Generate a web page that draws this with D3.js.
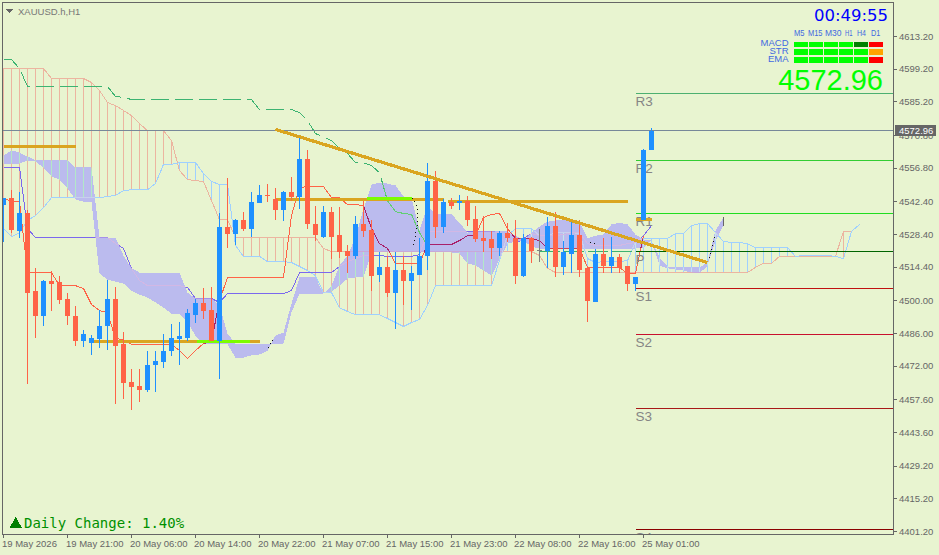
<!DOCTYPE html>
<html lang="en">
<head>
<meta charset="UTF-8">
<title>XAUUSD.h,H1</title>
<script src="https://d3js.org/d3.v7.min.js"></script>
<style>
    html, body { margin: 0; padding: 0; background: #e8f4d0; overflow: hidden; }
    svg { display: block; }
    line, rect, path { shape-rendering: crispEdges; }
    text { font-family: "Liberation Sans", Arial, sans-serif; }
    .tick-label { font-size: 9.5px; fill: #666; }
    .pivot-label { font-size: 13.5px; fill: #858585; }
</style>
</head>
<body>
<svg width="939" height="555"></svg>
<script>
    // candles, one entry per H1 bar
    const opens = [4541.2,4544.2,4530.1,4537.4,4504.0,4493.7,4508.3,4507.9,4500.9,4493.7,4482.6,4482.1,4483.8,4489.0,4500.9,4481.3,4465.4,4463.7,4461.6,4472.3,4474.0,4478.3,4483.8,4484.2,4494.1,4499.2,4496.2,4482.6,4531.4,4528.8,4534.4,4530.9,4542.1,4545.5,4543.8,4539.1,4546.8,4544.6,4560.9,4533.1,4527.5,4538.2,4528.0,4521.5,4519.4,4532.7,4530.5,4511.2,4514.3,4503.5,4513.0,4508.3,4511.2,4519.0,4551.5,4531.4,4542.5,4542.1,4542.9,4535.2,4526.7,4526.3,4522.8,4529.2,4527.1,4510.8,4526.7,4521.9,4521.5,4532.2,4514.3,4520.2,4528.4,4513.9,4499.7,4520.2,4514.7,4518.9,4514.7,4507.4,4534.4,4564.4];
    const highs = [4544.2,4547.6,4546.8,4538.7,4513.9,4509.1,4512.6,4510.8,4503.5,4497.6,4487.6,4485.5,4496.2,4508.7,4506.1,4486.8,4471.0,4470.6,4478.7,4478.3,4485.9,4490.2,4491.1,4496.7,4500.9,4505.3,4506.1,4537.4,4552.4,4535.2,4538.2,4546.4,4549.8,4550.2,4548.5,4547.2,4553.2,4570.8,4564.8,4540.4,4540.4,4540.0,4540.0,4524.1,4536.5,4542.9,4534.8,4521.1,4519.4,4520.7,4519.4,4515.1,4526.7,4559.2,4555.8,4543.8,4544.2,4545.5,4545.1,4540.8,4536.5,4529.7,4530.1,4533.5,4534.4,4528.8,4527.5,4530.9,4535.7,4538.2,4525.8,4534.4,4534.4,4513.9,4522.4,4526.7,4527.5,4520.2,4515.1,4510.4,4565.2,4573.8];
    const lows = [4525.0,4529.2,4527.1,4464.5,4484.2,4489.4,4495.8,4498.8,4489.8,4480.8,4480.4,4477.0,4479.6,4479.1,4456.0,4458.1,4453.4,4456.5,4461.1,4461.1,4471.4,4476.5,4472.3,4482.6,4490.7,4492.4,4482.6,4466.7,4522.8,4523.7,4529.7,4527.5,4541.7,4542.5,4534.4,4534.0,4542.9,4539.5,4530.9,4525.8,4527.1,4518.1,4518.5,4511.7,4518.1,4527.5,4504.4,4507.9,4501.8,4488.1,4498.0,4496.2,4511.2,4513.4,4527.1,4529.2,4539.5,4539.1,4532.2,4525.0,4520.7,4518.1,4519.0,4525.0,4507.0,4510.0,4516.0,4516.8,4513.9,4510.0,4511.2,4512.1,4510.0,4491.1,4499.7,4512.1,4512.1,4512.1,4504.0,4504.4,4534.4,4564.4];
    const closes = [4544.2,4530.5,4537.4,4503.5,4493.7,4508.3,4507.4,4500.5,4493.3,4482.6,4485.9,4484.2,4489.4,4500.9,4480.8,4465.0,4463.3,4461.6,4472.7,4474.4,4478.7,4484.2,4485.1,4494.6,4499.2,4495.8,4482.6,4531.4,4528.8,4534.4,4530.9,4542.5,4545.5,4545.1,4539.1,4546.4,4544.6,4560.9,4532.7,4528.0,4538.2,4527.5,4521.1,4519.4,4532.7,4530.1,4510.8,4514.3,4503.5,4513.0,4508.3,4511.7,4519.4,4551.5,4531.4,4542.5,4540.4,4542.9,4534.8,4526.3,4525.8,4522.8,4529.2,4526.7,4510.8,4526.7,4521.5,4521.9,4532.2,4514.3,4521.1,4528.4,4513.4,4500.1,4520.2,4514.7,4518.9,4513.9,4507.4,4510.0,4564.8,4572.9];

    // hatched cloud, extends 26 bars past the last candle
    const salmonSpan = [4599.5,4599.5,4599.5,4599.5,4599.5,4599.5,4595.2,4595.2,4595.2,4595.2,4595.2,4593.5,4590.1,4584.9,4583.6,4581.5,4579.3,4575.9,4572.9,4572.9,4572.9,4568.6,4555.8,4551.9,4551.5,4551.1,4542.9,4534.8,4534.8,4527.1,4527.1,4527.1,4527.1,4527.1,4527.1,4527.1,4527.1,4527.1,4527.1,4527.1,4522.4,4521.1,4521.1,4521.1,4521.1,4521.1,4521.1,4521.1,4521.1,4521.1,4521.1,4521.1,4521.1,4521.1,4521.1,4521.1,4521.1,4521.1,4521.1,4521.1,4521.1,4521.1,4521.1,4521.1,4521.1,4521.1,4521.1,4519.4,4513.9,4512.1,4512.1,4512.1,4512.1,4512.1,4512.1,4512.1,4512.1,4512.1,4512.1,4512.1,4512.1,4512.1,4512.1,4512.1,4512.1,4512.1,4512.1,4512.1,4512.1,4512.1,4512.1,4512.1,4512.1,4512.1,4514.3,4516.0,4516.0,4519.0,4519.0,4519.0,4519.0,4519.0,4519.0,4519.0,4519.0,4529.7,4529.7,4532.7];
    const skySpan = [4530.9,4527.5,4529.2,4534.4,4536.5,4539.9,4544.2,4544.2,4544.2,4544.2,4544.2,4544.2,4544.2,4544.7,4545.1,4547.2,4547.6,4547.6,4547.6,4550.2,4558.4,4558.4,4559.2,4559.2,4559.2,4554.5,4551.1,4549.8,4549.8,4523.7,4519.0,4519.0,4519.0,4516.8,4516.8,4516.8,4516.4,4514.7,4513.0,4510.8,4503.5,4503.5,4497.1,4495.4,4494.1,4494.1,4494.1,4494.1,4492.4,4490.7,4489.0,4490.7,4492.0,4498.0,4506.5,4506.5,4506.5,4506.5,4506.5,4506.5,4506.5,4506.5,4517.2,4527.9,4530.9,4530.9,4530.9,4527.9,4527.9,4529.2,4529.2,4529.2,4528.8,4518.1,4516.4,4516.8,4516.8,4516.8,4517.2,4525.4,4526.7,4526.7,4526.7,4526.7,4528.8,4528.8,4532.2,4533.1,4533.1,4529.2,4525.4,4525.0,4525.0,4524.5,4522.8,4522.8,4522.8,4522.8,4522.8,4519.0,4519.4,4519.4,4519.4,4519.4,4519.0,4518.1,4529.7,4532.7];

    // filled cloud
    const kumoA = [4558.8,4558.8,4558.8,4560.1,4559.6,4557.1,4553.2,4551.9,4548.1,4543.4,4542.5,4542.5,4511.7,4509.1,4508.2,4507.4,4504.4,4502.7,4501.4,4499.3,4497.1,4494.5,4494.5,4490.7,4485.1,4481.7,4481.3,4481.3,4481.3,4475.7,4475.7,4476.6,4477.0,4478.7,4485.1,4486.4,4498.8,4510.0,4510.0,4510.0,4503.1,4506.5,4515.1,4519.4,4527.1,4539.5,4549.8,4550.6,4550.2,4549.4,4544.7,4544.2,4530.1,4540.8,4537.0,4537.0,4537.0,4533.5,4529.2,4529.7,4529.7,4529.7,4529.7,4529.7,4527.9,4525.8,4529.2,4531.8,4533.9,4534.4,4534.4,4534.4,4533.9,4526.7,4527.9,4528.4,4532.7,4533.5,4532.7,4528.4,4526.2,4525.8,4518.5,4514.7,4514.3,4514.3,4514.3,4514.3,4516.4,4530.1,4535.7];
    const kumoB = [4562.2,4564.4,4563.5,4561.8,4560.1,4560.1,4560.1,4560.1,4560.1,4557.1,4557.1,4557.1,4527.1,4527.1,4527.1,4519.4,4513.9,4512.1,4512.1,4512.1,4512.1,4512.1,4512.1,4503.5,4501.0,4501.0,4501.0,4498.0,4486.0,4481.7,4481.7,4481.3,4481.3,4481.3,4481.3,4481.7,4495.0,4503.1,4503.1,4503.1,4503.1,4504.0,4506.5,4509.5,4510.0,4510.0,4520.7,4520.7,4520.7,4520.7,4520.7,4520.7,4520.7,4520.7,4520.7,4520.7,4520.7,4520.2,4516.0,4515.1,4513.0,4510.8,4517.7,4524.5,4525.4,4525.8,4523.2,4522.4,4522.4,4522.4,4522.4,4522.4,4522.4,4522.4,4522.4,4522.4,4522.4,4522.4,4522.4,4522.4,4522.8,4525.8,4515.1,4513.9,4513.4,4513.0,4512.1,4511.7,4515.1,4525.8,4532.2];

    const tenkan = [4544.2,4542.5,4542.5,4512.1,4512.1,4512.1,4512.1,4506.5,4506.5,4506.5,4505.3,4498.4,4495.8,4495.0,4483.8,4483.4,4481.3,4481.3,4481.3,4481.3,4481.3,4481.3,4478.7,4475.3,4478.7,4481.7,4482.6,4500.1,4510.0,4510.0,4510.0,4510.0,4510.0,4510.0,4510.0,4510.0,4536.5,4548.5,4548.9,4548.9,4548.9,4544.2,4544.2,4541.2,4541.2,4540.8,4530.9,4524.5,4522.4,4516.0,4516.0,4516.0,4516.0,4524.1,4524.1,4524.1,4524.1,4525.8,4527.9,4527.9,4535.7,4537.0,4537.4,4530.9,4526.7,4526.7,4526.7,4525.8,4522.4,4522.4,4522.4,4522.4,4522.4,4514.3,4514.3,4514.3,4514.3,4514.3,4511.7,4511.7,4527.9];
    const kijun = [4557.1,4557.1,4557.1,4530.9,4527.1,4527.1,4527.1,4527.1,4527.1,4527.1,4527.1,4527.1,4527.1,4527.1,4524.5,4522.4,4513.9,4508.7,4506.5,4506.5,4506.5,4506.5,4506.5,4505.7,4501.0,4501.0,4501.0,4499.3,4503.1,4503.1,4503.1,4503.1,4503.1,4503.1,4503.1,4503.1,4504.4,4512.1,4512.1,4512.1,4512.1,4512.1,4514.7,4516.8,4518.1,4519.4,4519.4,4519.4,4519.0,4519.0,4519.0,4519.0,4519.8,4529.7,4529.7,4529.7,4529.7,4529.7,4529.7,4529.7,4529.7,4529.7,4529.2,4526.7,4524.5,4526.7,4528.8,4527.9,4527.9,4527.9,4528.4,4529.2,4529.2,4524.5,4523.7,4523.7,4523.7,4523.7,4524.5,4525.0,4527.9,4532.2];
    const chikou = [4603.3,4603.3,4599.5,4591.8,4591.8,4591.8,4591.8,4591.8,4591.8,4591.8,4591.8,4591.8,4591.8,4591.8,4587.5,4587.1,4586.2,4586.2,4586.2,4586.2,4586.2,4586.2,4586.2,4586.2,4586.2,4586.2,4586.2,4586.2,4586.2,4586.2,4586.2,4586.2,4581.9,4581.9,4581.9,4581.9,4581.9,4580.6,4577.2,4571.6,4570.3,4568.6,4565.2,4563.1,4559.2,4559.2,4557.9,4554.9,4542.9,4538.2,4537.4,4537.0,4529.2,4523.7];

    // levels and trendlines, as [first bar, last bar, price]
    const goldLevels = [[0, 9, 4565.9], [11, 32, 4482.6], [34, 55, 4543.5], [55.5, 78, 4542.5], [79, 81, 4534.7]];
    const limeLevels = [[24.2, 30.8, 4482.6], [45.4, 51, 4543.8]];
    const trendFrom = [34, 4573.4];
    const trendTo = [88, 4516.4];
    const dotted = [[[32.9, 4478.3], [33.7, 4484]], [[51.1, 4544.2], [51.7, 4539.9], [51.7, 4532.2], [51.2, 4522.8]], [[73.3, 4525.1], [73.9, 4524.5]], [[88.3, 4518.5], [88.9, 4528]]];

    const pivotNames = ["R3", "R2", "R1", "P", "S1", "S2", "S3", "S4"];
    const pivotPrices = [4588.8, 4560.1, 4537.5, 4521.2, 4505.3, 4485.6, 4454.0, 4402.2];
    const pivotColors = ["#4cb070", "#32cd32", "#20dd20", "#006400", "#c01010", "#c8102e", "#a81818", "#8b0000"];

    const priceTicks = [4613.2, 4599.2, 4585.2, 4570.8, 4556.8, 4542.4, 4528.4, 4514.4, 4500.0, 4486.0, 4472.0, 4457.6, 4443.6, 4429.2, 4415.2, 4401.2];
    const timeTicks = [0, 8, 16, 24, 32, 40, 48, 56, 64, 72, 80];
    const timeLabels = ["19 May 2026", "19 May 21:00", "20 May 06:00", "20 May 14:00", "20 May 22:00", "21 May 07:00", "21 May 15:00", "21 May 23:00", "22 May 08:00", "22 May 16:00", "25 May 01:00"];

    const bid = 4572.96;
    const panelFrames = ["M5", "M15", "M30", "H1", "H4", "D1"];
    const panelRows = ["MACD", "STR", "EMA"];
    const panelColors = [
        ["#00ff00", "#00ff00", "#00ff00", "#00ff00", "#008000", "#ff0000"],
        ["#00ff00", "#00ff00", "#00ff00", "#00ff00", "#00ff00", "#ffa500"],
        ["#00ff00", "#00ff00", "#00ff00", "#00ff00", "#00ff00", "#ff0000"]
    ];
    const frameLabelX = [794, 808, 825, 845, 857, 871];
    const frameLabelW = [10.5, 14.5, 16.5, 7.5, 9, 9.3];

    const x = d3.scaleLinear().domain([0, 1]).range([3.5, 11.5]);
    const y = d3.scaleLinear().domain([4613.2, 4401.2]).range([36.5, 531.5]);

    const svg = d3.select("svg");
    const defs = svg.append("defs");

    defs.append("clipPath").attr("id", "plot")
        .append("rect").attr("x", 3).attr("y", 3).attr("width", 890).attr("height", 531);

    const kumoArea = d3.area()
        .x((d, i) => x(i))
        .y0((d, i) => y(kumoA[i]))
        .y1((d, i) => y(kumoB[i]));
    defs.append("clipPath").attr("id", "cloud")
        .append("path").attr("d", kumoArea(kumoA));

    const plot = svg.append("g").attr("clip-path", "url(#plot)");

    const seriesLine = d3.line().x((d, i) => x(i)).y(d => y(d));
    function pairLine(pts) {
        return d3.line().x(d => x(d[0])).y(d => y(d[1]))(pts);
    }

    plot.append("path").attr("d", kumoArea(kumoA)).attr("fill", "#bbbbee");

    // hatch, recoloured where it crosses the filled cloud
    function hatch(parent, salmonCol, skyCol) {
        parent.selectAll("line.hatch")
            .data(salmonSpan)
            .enter().append("line")
            .attr("class", "hatch")
            .attr("x1", (d, i) => x(i))
            .attr("x2", (d, i) => x(i))
            .attr("y1", d => y(d))
            .attr("y2", (d, i) => y(skySpan[i]))
            .attr("stroke", (d, i) => d >= skySpan[i] ? salmonCol : skyCol)
            .attr("stroke-width", 1);
    }
    hatch(plot, "#ecb5a0", "#9fd0ff");
    hatch(plot.append("g").attr("clip-path", "url(#cloud)"), "#b2e8c8", "#c4e6ea");

    function drawLine(values, color, cloudColor, width) {
        const p = plot.append("path").attr("d", seriesLine(values))
            .attr("fill", "none").attr("stroke", color).attr("stroke-width", width || 1);
        if (cloudColor) {
            plot.append("g").attr("clip-path", "url(#cloud)")
                .append("path").attr("d", seriesLine(values))
                .attr("fill", "none").attr("stroke", cloudColor).attr("stroke-width", width || 1);
        }
        return p;
    }
    drawLine(salmonSpan, "#ecb5a0", "#c8a8d8");
    drawLine(skySpan, "#9fd0ff", "#c8d0ee");
    drawLine(kijun, "#7b68ee", "#d2b8e4");
    drawLine(tenkan, "#ff6347", "#a8206a");
    drawLine(chikou, "#3cb371", "#60d070").attr("stroke-dasharray", "18,6");

    // pivots
    pivotPrices.forEach((p, i) => {
        plot.append("line")
            .attr("x1", x(79)).attr("x2", 893)
            .attr("y1", y(p)).attr("y2", y(p))
            .attr("stroke", pivotColors[i]).attr("stroke-width", 1);
        plot.append("text").attr("class", "pivot-label")
            .attr("x", x(79)).attr("y", y(p) + 12.5)
            .text(pivotNames[i]);
    });
    plot.append("line")
        .attr("x1", x(67)).attr("x2", x(79))
        .attr("y1", y(pivotPrices[3])).attr("y2", y(pivotPrices[3]))
        .attr("stroke", "#3cb371").attr("stroke-dasharray", "20,4");

    plot.selectAll("path.gold")
        .data(goldLevels)
        .enter().append("path")
        .attr("class", "gold")
        .attr("d", d => pairLine([[d[0], d[2]], [d[1], d[2]]]))
        .attr("stroke", "#daa520").attr("stroke-width", 3).attr("fill", "none");

    plot.selectAll("path.lime")
        .data(limeLevels)
        .enter().append("path")
        .attr("class", "lime")
        .attr("d", d => pairLine([[d[0], d[2]], [d[1], d[2]]]))
        .attr("stroke", "#7cfc00").attr("stroke-width", 3).attr("fill", "none");

    plot.selectAll("path.dots")
        .data(dotted)
        .enter().append("path")
        .attr("class", "dots")
        .attr("d", pairLine)
        .attr("stroke", "#111").attr("stroke-dasharray", "1,3").attr("fill", "none");

    plot.append("line")
        .attr("x1", x(90)).attr("x2", x(90))
        .attr("y1", y(kumoB[90])).attr("y2", y(kumoA[90]))
        .attr("stroke", "#666");

    // bid line
    plot.append("line")
        .attr("x1", 3).attr("x2", 893)
        .attr("y1", y(bid)).attr("y2", y(bid))
        .attr("stroke", "#778899").attr("stroke-width", 1);

    // candles
    function candleColor(i) {
        if (opens[i] === closes[i] || i === 67) return "#808080";
        return closes[i] > opens[i] ? "#1e90ff" : "#ff6347";
    }
    const candle = plot.selectAll("g.candle")
        .data(opens)
        .enter().append("g")
        .attr("class", "candle");
    candle.append("line")
        .attr("x1", (d, i) => x(i)).attr("x2", (d, i) => x(i))
        .attr("y1", (d, i) => y(highs[i])).attr("y2", (d, i) => y(lows[i]))
        .attr("stroke", (d, i) => candleColor(i)).attr("stroke-width", 1);
    candle.append("rect")
        .attr("x", (d, i) => x(i) - 2.5)
        .attr("width", 5)
        .attr("y", (d, i) => y(Math.max(opens[i], closes[i])))
        .attr("height", (d, i) => Math.max(i === 67 ? 1 : 1.5, Math.abs(y(opens[i]) - y(closes[i]))))
        .attr("fill", (d, i) => candleColor(i));

    plot.append("path")
        .attr("d", pairLine([trendFrom, trendTo]))
        .attr("stroke", "#daa520").attr("stroke-width", 3.2).attr("fill", "none");

    // frame and axes
    svg.append("rect")
        .attr("x", 2.5).attr("y", 2.5).attr("width", 891).attr("height", 532)
        .attr("fill", "none").attr("stroke", "#666").attr("stroke-width", 1);

    svg.selectAll("line.ptick")
        .data(priceTicks)
        .enter().append("line")
        .attr("class", "ptick")
        .attr("x1", 893.5).attr("x2", 897)
        .attr("y1", d => y(d)).attr("y2", d => y(d))
        .attr("stroke", "#666");
    svg.selectAll("text.plabel")
        .data(priceTicks)
        .enter().append("text")
        .attr("class", "plabel tick-label")
        .attr("x", 899)
        .attr("y", d => y(d) + 3)
        .text(d => d.toFixed(2));

    svg.selectAll("line.ttick")
        .data(timeTicks)
        .enter().append("line")
        .attr("class", "ttick")
        .attr("x1", d => x(d)).attr("x2", d => x(d))
        .attr("y1", 534.5).attr("y2", 538)
        .attr("stroke", "#666");
    svg.selectAll("text.tlabel")
        .data(timeTicks)
        .enter().append("text")
        .attr("class", "tlabel tick-label")
        .attr("x", d => x(d) - 1.5)
        .attr("y", 547)
        .text((d, i) => timeLabels[i]);

    svg.append("rect")
        .attr("x", 895).attr("y", y(bid) - 5.5).attr("width", 41).attr("height", 11)
        .attr("fill", "#666");
    svg.append("text")
        .attr("x", 899).attr("y", y(bid) + 3.5)
        .attr("font-size", 9.5).attr("fill", "#fff")
        .text(bid.toFixed(2));

    // header
    svg.append("path").attr("d", "M6,9 L13,9 L9.5,13 Z").attr("fill", "#666");
    svg.append("text")
        .attr("x", 18).attr("y", 14.5)
        .attr("font-size", 9.5).attr("fill", "#777")
        .text("XAUUSD.h,H1");

    // clock and signal panel
    svg.append("text")
        .attr("x", 888).attr("y", 21).attr("text-anchor", "end")
        .style("font-family", "'DejaVu Sans'").attr("font-size", 16.5)
        .attr("fill", "#0000ff")
        .text("00:49:55");

    const cellX = d3.scaleBand().domain(panelFrames).range([793.5, 883]).paddingInner(0.05);
    const rowY = d3.scaleBand().domain(panelRows).range([41.5, 62.5]).paddingInner(0.35);

    svg.selectAll("text.frame")
        .data(panelFrames)
        .enter().append("text")
        .attr("class", "frame")
        .attr("x", (d, i) => frameLabelX[i])
        .attr("y", 36)
        .attr("textLength", (d, i) => frameLabelW[i])
        .attr("lengthAdjust", "spacingAndGlyphs")
        .attr("font-size", 9).attr("fill", "#4169e1")
        .text(d => d);

    panelRows.forEach((row, r) => {
        svg.append("text")
            .attr("x", 788.5).attr("y", rowY(row) + 4.5)
            .attr("text-anchor", "end")
            .attr("font-size", 9.5).attr("fill", "#4169e1")
            .text(row);
        panelFrames.forEach((f, c) => {
            svg.append("rect")
                .attr("x", cellX(f)).attr("y", rowY(row))
                .attr("width", cellX.bandwidth()).attr("height", rowY.bandwidth())
                .attr("fill", panelColors[r][c]);
        });
    });

    svg.append("text")
        .attr("x", 883).attr("y", 90).attr("text-anchor", "end")
        .attr("font-size", 29).attr("fill", "#00ff00")
        .text(bid.toFixed(2));

    // daily change
    svg.append("path").attr("d", "M9.5,528 L22,528 L15.7,517 Z").attr("fill", "#008000");
    svg.append("text")
        .attr("x", 24).attr("y", 528)
        .style("font-family", "'DejaVu Sans Mono'").attr("font-size", 14)
        .attr("fill", "#009000")
        .text("Daily Change: 1.40%");
</script>
</body>
</html>
